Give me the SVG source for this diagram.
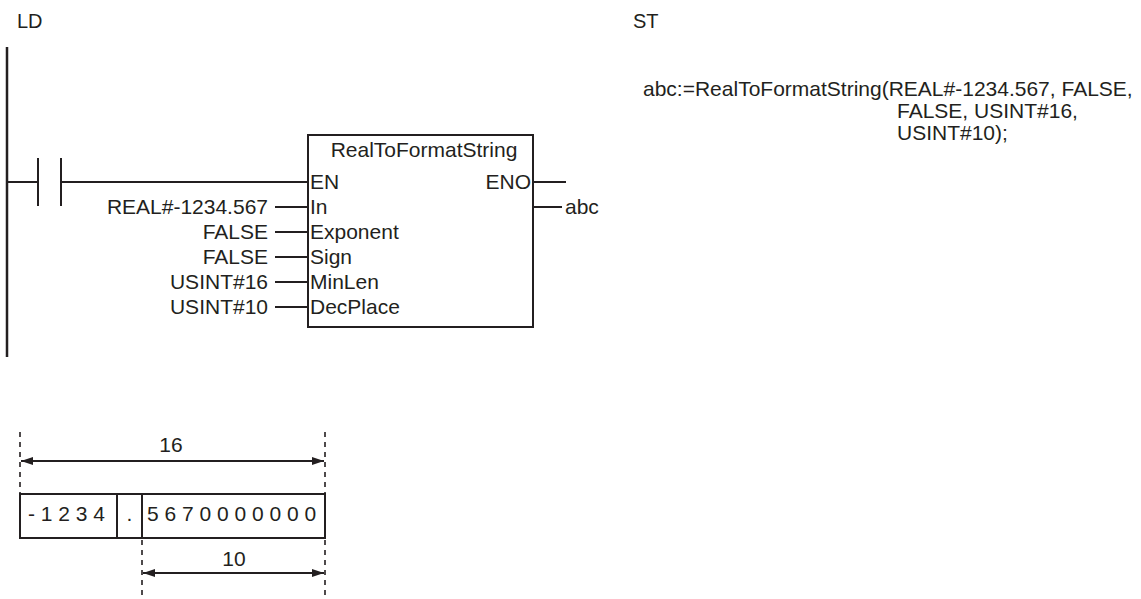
<svg xmlns="http://www.w3.org/2000/svg" width="1141" height="599" viewBox="0 0 1141 599">
<defs>
<style>
text{font-family:"Liberation Sans",Arial,sans-serif;font-size:21px;fill:#231f20}
.ln{stroke:#231f20;stroke-width:2;fill:none}
.dash{stroke:#231f20;stroke-width:1.6;stroke-dasharray:5,5;fill:none}
.r{text-anchor:end}
.m{text-anchor:middle}
</style>
<marker id="ah" viewBox="0 0 12 8" refX="12" refY="4" markerWidth="12" markerHeight="8" markerUnits="userSpaceOnUse" orient="auto-start-reverse">
<path d="M0,0 L12,4 L0,8 Z" fill="#231f20"/>
</marker>
</defs>
<rect width="1141" height="599" fill="#fff"/>
<g id="titles">
<text x="17" y="28" style="font-size:20px">LD</text>
<text x="633" y="28" style="font-size:20px">ST</text>
</g>
<g id="st-code">
<text x="643" y="96">abc:=RealToFormatString(REAL#-1234.567, FALSE,</text>
<text x="897" y="118">FALSE, USINT#16,</text>
<text x="897" y="140">USINT#10);</text>
</g>
<g id="rail">
<line class="ln" x1="7" y1="47" x2="7" y2="357" style="stroke-width:2.5"/>
</g>
<g id="contact">
<line class="ln" x1="38" y1="158" x2="38" y2="206"/>
<line class="ln" x1="61" y1="158" x2="61" y2="206"/>
</g>
<g id="fb">
<rect class="ln" x="308" y="135" width="225" height="192"/>
<text class="m" x="424" y="157">RealToFormatString</text>
<text x="310" y="189">EN</text>
<text x="310" y="214">In</text>
<text x="310" y="239">Exponent</text>
<text x="310" y="264">Sign</text>
<text x="310" y="289">MinLen</text>
<text x="310" y="314">DecPlace</text>
<text class="r" x="531" y="189">ENO</text>
</g>
<g id="operands">
<text class="r" x="268" y="214">REAL#-1234.567</text>
<text class="r" x="268" y="239">FALSE</text>
<text class="r" x="268" y="264">FALSE</text>
<text class="r" x="268" y="289">USINT#16</text>
<text class="r" x="268" y="314">USINT#10</text>
<text x="565" y="214">abc</text>
</g>
<g id="connectors">
<line class="ln" x1="7" y1="182" x2="38" y2="182"/>
<line class="ln" x1="61" y1="182" x2="308" y2="182"/>
<line class="ln" x1="275" y1="207" x2="308" y2="207"/>
<line class="ln" x1="275" y1="232" x2="308" y2="232"/>
<line class="ln" x1="275" y1="257" x2="308" y2="257"/>
<line class="ln" x1="275" y1="282" x2="308" y2="282"/>
<line class="ln" x1="275" y1="307" x2="308" y2="307"/>
<line class="ln" x1="533" y1="182" x2="566" y2="182"/>
<line class="ln" x1="533" y1="207" x2="562" y2="207"/>
</g>
<g id="format-box">
<rect class="ln" x="20" y="494" width="305" height="44"/>
<line class="ln" x1="117" y1="494" x2="117" y2="538"/>
<line class="ln" x1="142" y1="494" x2="142" y2="538"/>
<text x="28" y="521" xml:space="preserve">- 1 2 3 4</text>
<text class="m" x="129.5" y="521">.</text>
<text x="147" y="521" xml:space="preserve">5 6 7 0 0 0 0 0 0 0</text>
</g>
<g id="dimensions">
<line class="dash" x1="20" y1="432" x2="20" y2="494"/>
<line class="dash" x1="325" y1="432" x2="325" y2="494"/>
<line class="dash" x1="325" y1="540" x2="325" y2="599"/>
<line class="dash" x1="142" y1="540" x2="142" y2="599"/>
<line class="ln" x1="21" y1="461" x2="324" y2="461" marker-start="url(#ah)" marker-end="url(#ah)"/>
<text class="m" x="171" y="452">16</text>
<line class="ln" x1="143" y1="573" x2="324" y2="573" marker-start="url(#ah)" marker-end="url(#ah)"/>
<text class="m" x="234" y="566">10</text>
</g>
</svg>
